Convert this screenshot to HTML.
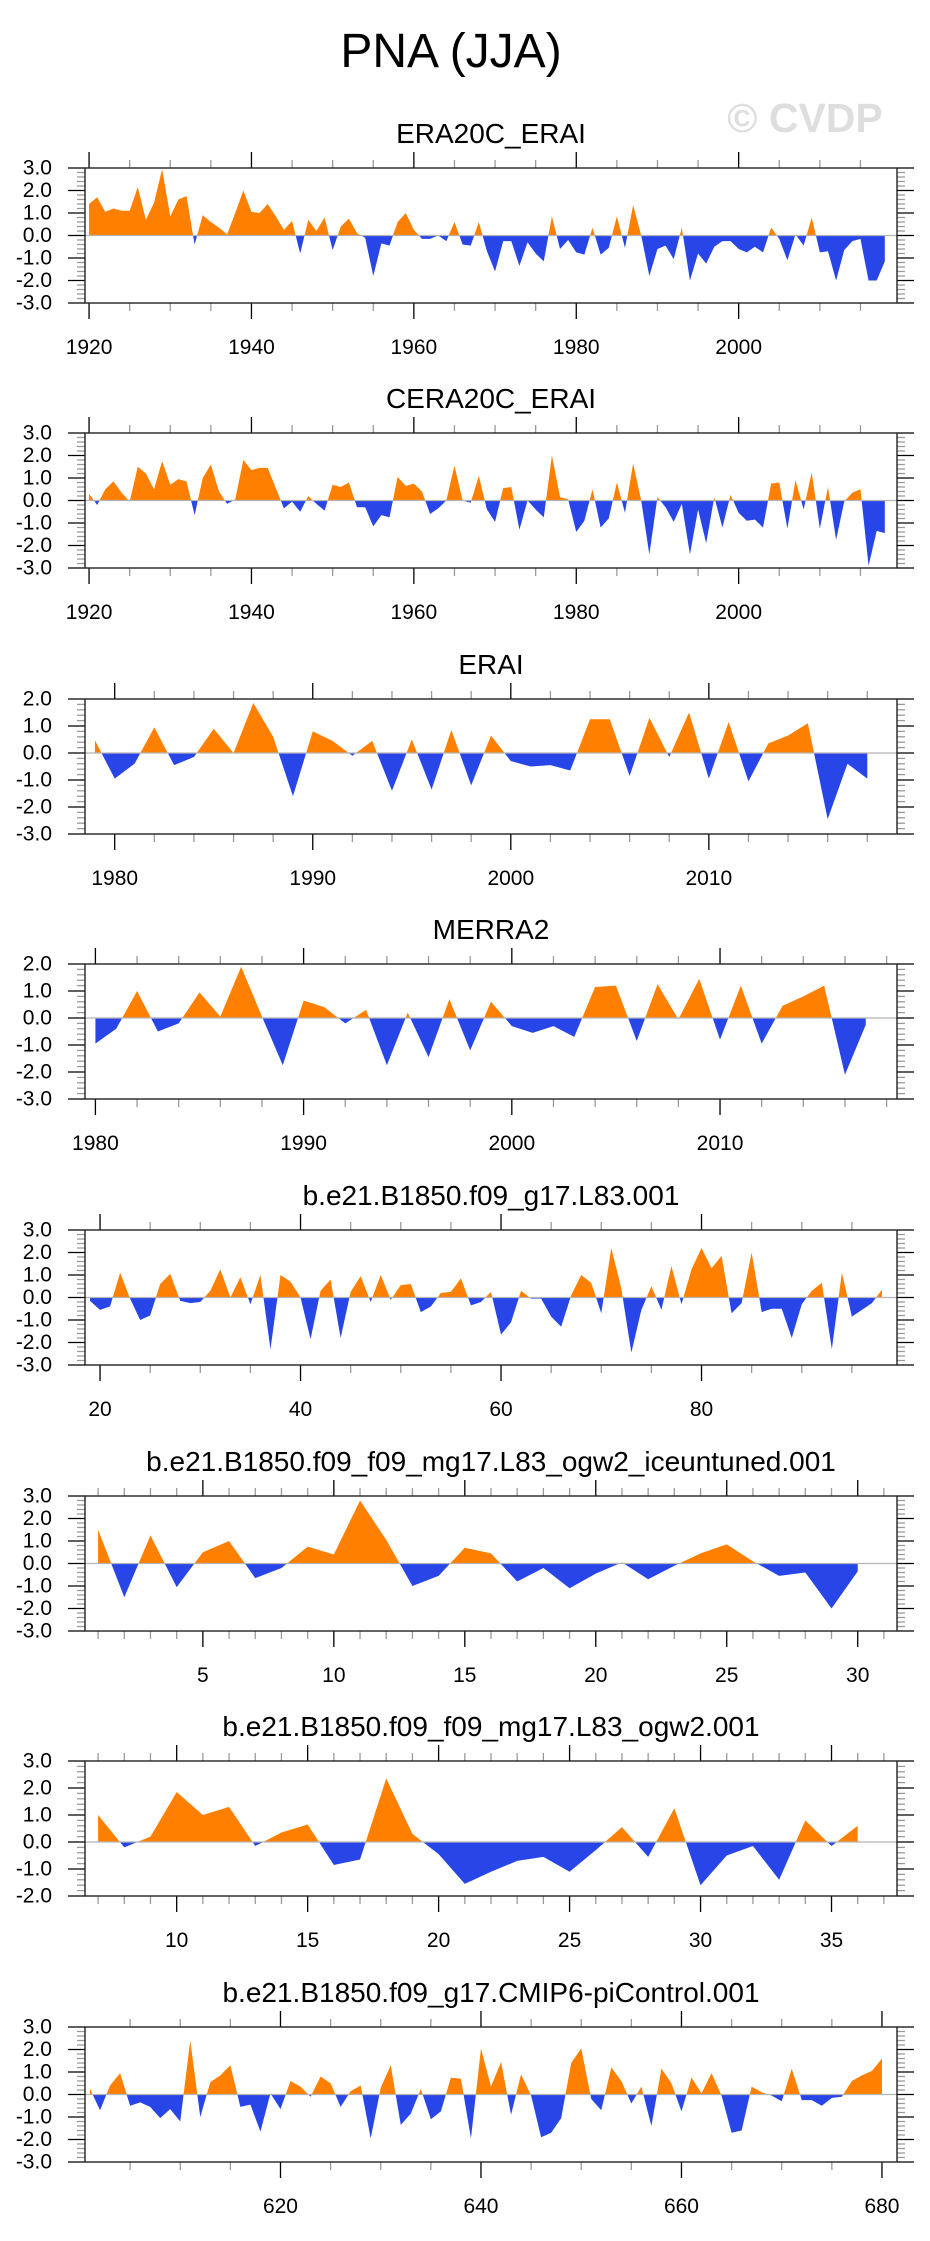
<!DOCTYPE html>
<html><head><meta charset="utf-8">
<style>
html,body{margin:0;padding:0;background:#fff;}
svg{display:block;font-family:"Liberation Sans",Arial,sans-serif;}
</style></head>
<body>
<svg id="chart" width="930" height="2241" viewBox="0 0 930 2241" xmlns="http://www.w3.org/2000/svg">
<rect width="930" height="2241" fill="#fff"/>
<text x="451" y="67" font-size="48" text-anchor="middle" fill="#000">PNA (JJA)</text>
<text x="805" y="132" font-size="41" font-weight="bold" text-anchor="middle" fill="#dedede">© CVDP</text>
<g id="panels"></g>
</svg>
<script>
// ---- data ----
const era20cStart = 1920;
const era20cValues = [1.4,1.7,1.05,1.2,1.1,1.1,2.15,0.7,1.45,2.95,0.85,1.6,1.75,-0.4,0.9,0.6,0.35,0.05,1.0,2.0,1.05,1.0,1.4,0.85,0.25,0.65,-0.8,0.7,0.2,0.8,-0.65,0.4,0.75,0.1,-0.1,-1.8,-0.35,-0.45,0.6,1.0,0.25,-0.15,-0.15,0.0,-0.25,0.6,-0.4,-0.45,0.6,-0.7,-1.6,-0.25,-0.25,-1.35,-0.3,-0.8,-1.15,0.85,-0.6,-0.2,-0.75,-0.85,0.35,-0.85,-0.55,0.85,-0.55,1.35,0.0,-1.8,-0.6,-0.45,-1.05,0.35,-2.0,-0.8,-1.25,-0.5,-0.25,-0.25,-0.6,-0.75,-0.5,-0.75,0.35,-0.15,-1.1,0.05,-0.45,0.8,-0.75,-0.7,-2.0,-0.65,-0.25,-0.15,-2.0,-2.0,-1.15];
const cera20cStart = 1920;
const cera20cValues = [0.3,-0.2,0.5,0.85,0.35,-0.05,1.5,1.2,0.5,1.75,0.7,0.95,0.85,-0.65,1.0,1.6,0.4,-0.15,0.05,1.8,1.35,1.45,1.45,0.55,-0.35,-0.05,-0.5,0.2,-0.15,-0.45,0.7,0.6,0.8,-0.3,-0.3,-1.15,-0.65,-0.75,1.05,0.65,0.75,0.4,-0.6,-0.35,0.0,1.55,0.0,-0.1,1.1,-0.4,-0.95,0.55,0.6,-1.3,0.0,-0.4,-0.75,2.0,0.15,0.05,-1.4,-0.9,0.5,-1.2,-0.8,0.8,-0.55,1.65,0.0,-2.4,0.15,-0.3,-0.95,-0.15,-2.4,-0.4,-1.9,0.15,-1.2,0.25,-0.55,-0.9,-0.85,-1.2,0.75,0.8,-1.25,0.9,-0.4,1.25,-1.25,0.6,-1.75,-0.05,0.35,0.5,-2.9,-1.35,-1.45];
const eraiStart = 1979;
const eraiValues = [0.47,-0.95,-0.4,0.95,-0.45,-0.15,0.9,0.0,1.85,0.6,-1.6,0.8,0.45,-0.1,0.45,-1.4,0.5,-1.35,0.85,-1.2,0.65,-0.3,-0.5,-0.45,-0.65,1.25,1.25,-0.85,1.3,-0.15,1.5,-0.95,1.15,-1.05,0.35,0.65,1.1,-2.45,-0.4,-0.95];
const merra2Start = 1980;
const merra2Values = [-0.95,-0.4,1.0,-0.5,-0.2,0.95,0.05,1.9,0.05,-1.75,0.65,0.4,-0.2,0.3,-1.75,0.2,-1.45,0.7,-1.2,0.6,-0.3,-0.55,-0.3,-0.7,1.15,1.2,-0.85,1.25,-0.05,1.45,-0.8,1.2,-0.95,0.45,0.8,1.2,-2.1,-0.25];
const l83Start = 19;
const l83Values = [-0.15,-0.55,-0.4,1.1,-0.05,-1.0,-0.8,0.6,1.05,-0.15,-0.25,-0.2,0.3,1.25,0.0,0.9,-0.3,1.0,-2.3,1.0,0.7,0.0,-1.85,0.3,0.8,-1.8,0.25,0.95,-0.2,1.0,-0.1,0.55,0.6,-0.65,-0.4,0.2,0.25,0.85,-0.35,-0.2,0.25,-1.65,-1.1,0.3,-0.05,-0.05,-0.85,-1.3,0.1,1.0,0.65,-0.7,2.2,0.4,-2.45,-0.55,0.5,-0.55,1.4,-0.3,1.25,2.2,1.3,1.85,-0.7,-0.25,2.0,-0.65,-0.5,-0.5,-1.8,-0.3,0.3,0.65,-2.3,1.1,-0.85,-0.55,-0.25,0.35];
const iceStart = 1;
const iceValues = [1.5,-1.5,1.25,-1.05,0.5,1.0,-0.65,-0.2,0.75,0.4,2.8,1.05,-1.0,-0.55,0.7,0.45,-0.8,-0.2,-1.1,-0.45,0.05,-0.7,-0.1,0.45,0.85,0.1,-0.55,-0.4,-2.0,-0.35];
const ogw2Start = 7;
const ogw2Values = [1.0,-0.2,0.2,1.85,1.0,1.3,-0.15,0.35,0.65,-0.85,-0.65,2.35,0.3,-0.45,-1.55,-1.1,-0.7,-0.55,-1.1,-0.3,0.55,-0.55,1.25,-1.6,-0.5,-0.15,-1.4,0.8,-0.15,0.6];
const picStart = 601;
const picValues = [0.25,-0.7,0.4,0.95,-0.5,-0.35,-0.55,-1.05,-0.65,-1.2,2.4,-1.0,0.55,0.85,1.3,-0.55,-0.45,-1.65,0.05,-0.65,0.6,0.35,-0.1,0.8,0.5,-0.55,0.15,0.4,-1.95,0.3,1.3,-1.35,-0.85,0.25,-1.1,-0.75,0.75,0.7,-1.95,2.05,0.35,1.45,-0.9,0.9,-0.05,-1.9,-1.7,-1.05,1.4,2.05,-0.2,-0.7,1.2,0.6,-0.4,0.35,-1.4,1.15,0.5,-0.75,0.75,0.05,0.95,-0.05,-1.7,-1.6,0.35,0.1,-0.05,-0.3,1.15,-0.25,-0.25,-0.5,-0.15,-0.1,0.6,0.85,1.05,1.6];

const panelTitles = ["ERA20C_ERAI","CERA20C_ERAI","ERAI","MERRA2","b.e21.B1850.f09_g17.L83.001","b.e21.B1850.f09_f09_mg17.L83_ogw2_iceuntuned.001","b.e21.B1850.f09_f09_mg17.L83_ogw2.001","b.e21.B1850.f09_g17.CMIP6-piControl.001"];
const panelStarts = [era20cStart,cera20cStart,eraiStart,merra2Start,l83Start,iceStart,ogw2Start,picStart];
const panelValues = [era20cValues,cera20cValues,eraiValues,merra2Values,l83Values,iceValues,ogw2Values,picValues];
const panelYmax = [3,3,2,2,3,3,3,3];
const panelYmin = [-3,-3,-3,-3,-3,-3,-2,-3];
const panelXmin = [1919.5,1919.5,1978.5,1979.5,18.5,0.5,6.5,600.5];
const panelXmax = [2019.5,2019.5,2019.5,2018.5,99.5,31.5,37.5,681.5];
const panelMajor = [20,20,10,10,20,5,5,20];
const panelMinor = [5,5,2,2,5,1,1,5];

// ---- layout ----
const L = 85, R = 897, H = 135;
const panelTops = [168,433,699,964,1230,1496,1761,2027];
const NS = "http://www.w3.org/2000/svg";
const root = document.getElementById('panels');
function mk(tag, attrs, parent){
  const e = document.createElementNS(NS, tag);
  for (const k in attrs) e.setAttribute(k, attrs[k]);
  (parent||root).appendChild(e);
  return e;
}
const ORANGE = "#ff8000", BLUE = "#2846e8";

panelTitles.forEach((title, p) => {
  const top = panelTops[p], bot = top + H;
  const ymin = panelYmin[p], ymax = panelYmax[p];
  const xmin = panelXmin[p], xmax = panelXmax[p];
  const xs = v => L + (v - xmin) / (xmax - xmin) * (R - L);
  const ys = v => top + (ymax - v) / (ymax - ymin) * H;
  const g = mk('g', {});
  
  

  const t = mk('text', {x: (L + R) / 2, y: top - 25, 'font-size': 28, 'text-anchor': 'middle', fill: '#000'}, g);
  
  
  t.textContent = title;

  const vals = panelValues[p], start = panelStarts[p];
  const z = ys(0);
  let d = '';
  vals.forEach((v, i) => { d += (i ? 'L' : 'M') + xs(start + i).toFixed(2) + ',' + ys(v).toFixed(2); });
  d += 'L' + xs(start + vals.length - 1).toFixed(2) + ',' + z + 'L' + xs(start).toFixed(2) + ',' + z + 'Z';
  const cpA = mk('clipPath', {id: 'ca' + p}, g); mk('rect', {x: L, y: top, width: R - L, height: z - top}, cpA);
  const cpB = mk('clipPath', {id: 'cb' + p}, g); mk('rect', {x: L, y: z, width: R - L, height: bot - z}, cpB);
  const pa = mk('path', {d: d, fill: ORANGE, 'clip-path': 'url(#ca' + p + ')'}, g);
  
  
  const pb = mk('path', {d: d, fill: BLUE, 'clip-path': 'url(#cb' + p + ')'}, g);
  
  
  const zl = mk('line', {x1: L, x2: R, y1: z, y2: z, stroke: '#b4b4b4', 'stroke-width': 1.2}, g);
  
  

  for (let v = ymin; v <= ymax + 1e-9; v += 0.2) {
    const vr = Math.round(v * 10) / 10;
    const major = Math.abs(vr - Math.round(vr)) < 1e-6;
    const y = ys(vr);
    const len = major ? 17 : 8, col = major ? '#000' : '#9a9a9a';
    mk('line', {x1: L - len, x2: L, y1: y, y2: y, stroke: col, 'stroke-width': 1.3}, g);
    mk('line', {x1: R, x2: R + len, y1: y, y2: y, stroke: col, 'stroke-width': 1.3}, g);
    if (major) {
      const tl = mk('text', {x: 52, y: y, 'font-size': 21, 'text-anchor': 'end', 'dominant-baseline': 'central', fill: '#000'}, g);
      
      
      tl.textContent = vr.toFixed(1);
    }
  }
  const mn = panelMinor[p], mj = panelMajor[p];
  for (let v = Math.ceil(xmin / mn) * mn; v <= xmax; v += mn) {
    const major = v % mj === 0;
    const x = xs(v);
    const len = major ? 16 : 8, col = major ? '#000' : '#9a9a9a';
    mk('line', {x1: x, x2: x, y1: top - len, y2: top, stroke: col, 'stroke-width': 1.3}, g);
    mk('line', {x1: x, x2: x, y1: bot, y2: bot + len, stroke: col, 'stroke-width': 1.3}, g);
    if (major) {
      const xl = mk('text', {x: x, y: top + 186, 'font-size': 21, 'text-anchor': 'middle', fill: '#000'}, g);
      
      
      xl.textContent = String(v);
    }
  }
  const fr = mk('rect', {x: L, y: top, width: R - L, height: H, fill: 'none', stroke: '#222', 'stroke-width': 1.4}, g);
  
  
});
</script>
</body></html>
